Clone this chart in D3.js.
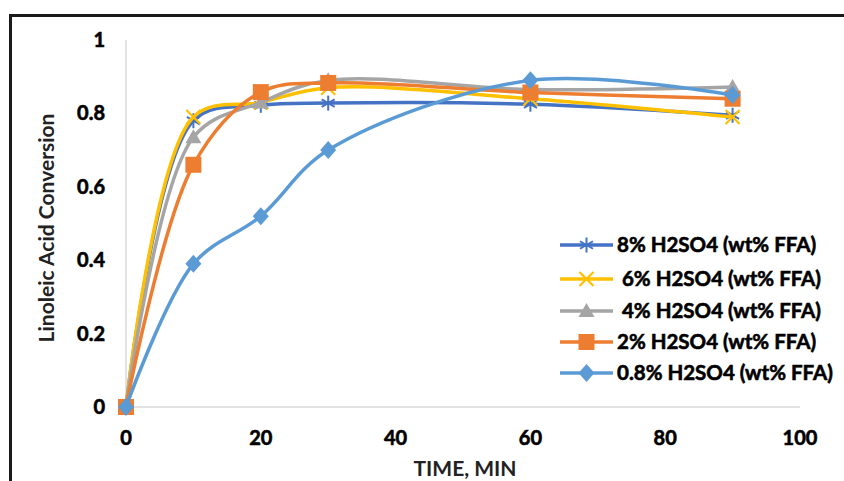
<!DOCTYPE html>
<html>
<head>
<meta charset="utf-8">
<script src="https://cdn.jsdelivr.net/npm/d3@7"></script>
<style>
  body { margin: 0; background: #fff; }
  text { font-family: Lato, "Open Sans", sans-serif; }
  .heavy { stroke: #000; stroke-width: 0.6px; }
</style>
</head>
<body>
<script>
// time in minutes
const times = [0, 10, 20, 30, 60, 90];
const seriesNames = [
  "8% H2SO4 (wt% FFA)",
  " 6% H2SO4 (wt% FFA)",
  " 4% H2SO4 (wt% FFA)",
  "2% H2SO4 (wt% FFA)",
  "0.8% H2SO4 (wt% FFA)"
];
const conv8 = [0, 0.78, 0.822, 0.828, 0.825, 0.795];
const conv6 = [0, 0.79, 0.83, 0.87, 0.84, 0.79];
const conv4 = [0, 0.735, 0.83, 0.89, 0.865, 0.872];
const conv2 = [0, 0.66, 0.858, 0.883, 0.857, 0.84];
const conv08 = [0, 0.39, 0.52, 0.70, 0.89, 0.85];
const xTicks = [0, 20, 40, 60, 80, 100];
const yTicks = [0, 0.2, 0.4, 0.6, 0.8, 1];

const colors = ["#4472C4", "#FFC000", "#A5A5A5", "#ED7D31", "#5B9BD5"];
const markers = ["star", "cross", "triangle", "square", "diamond"];
const allSeries = [conv8, conv6, conv4, conv2, conv08];

const W = 844, H = 481;
const svg = d3.select("body").append("svg")
  .attr("width", W)
  .attr("height", H);

// outer frame (only top and left edges are visible)
svg.append("path")
  .attr("d", `M10.5,${H + 5} V15.5 H${W + 5}`)
  .attr("fill", "none")
  .attr("stroke", "#1a1a1a")
  .attr("stroke-width", 3);

var x = d3.scaleLinear().domain([0, 100]).range([126, 800]);
var y = d3.scaleLinear().domain([0, 1]).range([407, 40]);

// axis lines
svg.append("line")
  .attr("x1", x(0)).attr("x2", x(100))
  .attr("y1", y(0)).attr("y2", y(0))
  .attr("stroke", "#d9d9d9").attr("stroke-width", 1.5);
svg.append("line")
  .attr("x1", x(0)).attr("x2", x(0))
  .attr("y1", y(0)).attr("y2", y(1))
  .attr("stroke", "#d9d9d9").attr("stroke-width", 1.5);

// tick labels
svg.selectAll(".xt").data(xTicks).enter().append("text")
  .attr("class", "xt heavy")
  .attr("x", d => x(d))
  .attr("y", 445)
  .attr("text-anchor", "middle")
  .style("font-size", "20px")
  .style("font-weight", "bold")
  .text(d => d);

svg.selectAll(".yt").data(yTicks).enter().append("text")
  .attr("class", "yt heavy")
  .attr("x", 105)
  .attr("y", d => y(d) + 7)
  .attr("text-anchor", "end")
  .style("font-size", "20px")
  .style("font-weight", "bold")
  .text(d => d);

// axis titles
svg.append("text")
  .attr("x", 465)
  .attr("y", 476)
  .attr("text-anchor", "middle")
  .style("font-size", "21px")
  .style("font-weight", "bold")
  .style("fill", "#222")
  .text("TIME, MIN");

svg.append("text")
  .attr("transform", "translate(54,228) rotate(-90)")
  .attr("text-anchor", "middle")
  .style("font-size", "21px")
  .style("font-weight", "bold")
  .style("fill", "#222")
  .text("Linoleic Acid Conversion");

var line = d3.line()
  .x(d => x(d[0]))
  .y(d => y(d[1]))
  .curve(d3.curveCatmullRom.alpha(0.5));

function drawMarker(g, type, color, cx, cy) {
  if (type == "star") {
    var r = 7.5;
    [0, 60, 120].forEach(function(a) {
      var rad = a * Math.PI / 180;
      g.append("line")
        .attr("x1", cx - r * Math.sin(rad)).attr("y1", cy - r * Math.cos(rad))
        .attr("x2", cx + r * Math.sin(rad)).attr("y2", cy + r * Math.cos(rad))
        .attr("stroke", color).attr("stroke-width", 2);
    });
  } else if (type == "cross") {
    var r = 7;
    g.append("path")
      .attr("d", `M${cx - r},${cy - r}L${cx + r},${cy + r}M${cx - r},${cy + r}L${cx + r},${cy - r}`)
      .attr("stroke", color).attr("stroke-width", 2.2);
  } else if (type == "triangle") {
    g.append("path")
      .attr("d", `M${cx},${cy - 8}L${cx + 8},${cy + 6}L${cx - 8},${cy + 6}Z`)
      .attr("fill", color);
  } else if (type == "square") {
    g.append("rect")
      .attr("x", cx - 8).attr("y", cy - 8)
      .attr("width", 16).attr("height", 16)
      .attr("fill", color);
  } else if (type == "diamond") {
    g.append("path")
      .attr("d", `M${cx},${cy - 9}L${cx + 8},${cy}L${cx},${cy + 9}L${cx - 8},${cy}Z`)
      .attr("fill", color);
  }
}

allSeries.forEach(function(vals, i) {
  var pts = times.map((t, j) => [t, vals[j]]);
  var g = svg.append("g");
  g.append("path")
    .attr("d", line(pts))
    .attr("fill", "none")
    .attr("stroke", colors[i])
    .attr("stroke-width", 3.5);
  pts.forEach(function(p) {
    drawMarker(g, markers[i], colors[i], x(p[0]), y(p[1]));
  });
});

// legend
var legendY = [245, 279, 311, 342, 373];
seriesNames.forEach(function(name, i) {
  var g = svg.append("g");
  g.append("line")
    .attr("x1", 560).attr("x2", 613)
    .attr("y1", legendY[i]).attr("y2", legendY[i])
    .attr("stroke", colors[i]).attr("stroke-width", 3.5);
  drawMarker(g, markers[i], colors[i], 586.5, legendY[i]);
  g.append("text")
    .attr("class", "heavy")
    .attr("x", 617)
    .attr("y", legendY[i] + 7)
    .style("font-size", "20.5px")
    .style("font-weight", "bold")
    .style("white-space", "pre")
    .attr("xml:space", "preserve")
    .text(name);
});
</script>
</body>
</html>
